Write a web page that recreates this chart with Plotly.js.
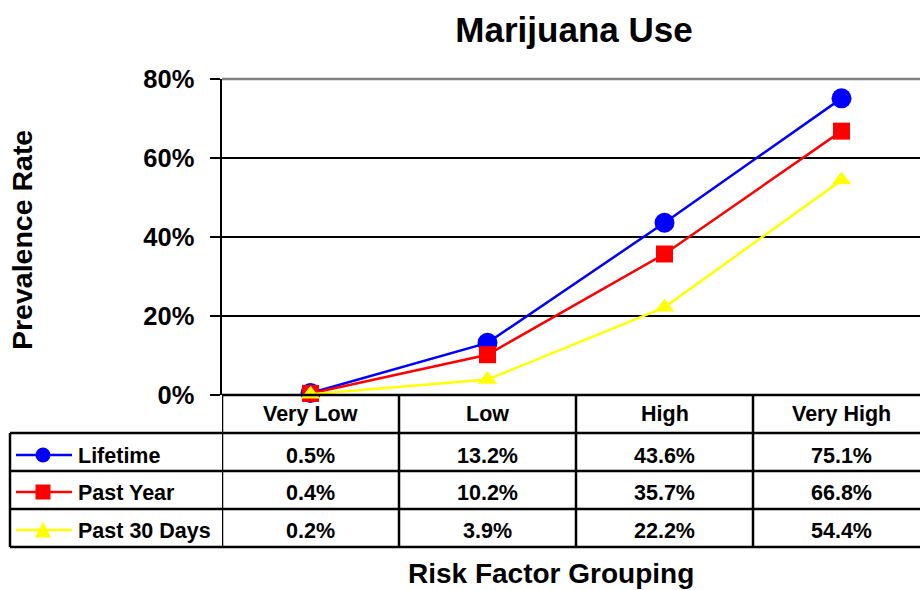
<!DOCTYPE html>
<html>
<head>
<meta charset="utf-8">
<script src="https://cdn.plot.ly/plotly-3.0.1.min.js"></script>
<style>
  html, body { margin: 0; padding: 0; background: #fff; }
  #chart { width: 920px; height: 590px; }
</style>
</head>
<body>
<div id="chart"></div>
<script>
// Marijuana use prevalence by risk factor grouping
const categories = ['Very Low', 'Low', 'High', 'Very High'];
const seriesNames = ['Lifetime', 'Past Year', 'Past 30 Days'];
const lifetime = [0.5, 13.2, 43.6, 75.1];
const pastYear = [0.4, 10.2, 35.7, 66.8];
const past30Days = [0.2, 3.9, 22.2, 54.4];
const yTickValues = [0, 20, 40, 60, 80];

const FONT = 'Liberation Sans, Arial, Helvetica, sans-serif';
const W = 920, H = 590;
// plot area in pixels
const L = 222, R = 920, T = 79, B = 395;
const px = p => (p - L) / (R - L);   // pixel x -> paper x
const py = p => (B - p) / (B - T);   // pixel y -> paper y
const RULE = 2.5;

const styles = [
  { color: '#0000FF', symbol: 'circle', size: 20 },
  { color: '#FF0000', symbol: 'square', size: 17 },
  { color: '#FFFF00', symbol: 'triangle-up', size: 17 }
];
const values = [lifetime, pastYear, past30Days];

const traces = values.map((v, i) => ({
  type: 'scatter',
  mode: 'lines+markers',
  name: seriesNames[i],
  x: categories.map((c, k) => k),
  y: v,
  line: { color: styles[i].color, width: 2.5 },
  marker: { color: styles[i].color, symbol: styles[i].symbol, size: styles[i].size, line: { width: 0 } },
  cliponaxis: false,
  hoverinfo: 'skip'
}));

// data table geometry (pixels)
const headerTop = 395, rowTops = [433, 471, 509], tableBottom = 547, tableLeft = 10;
const rowCenters = [455, 492, 530];
const headerCenter = 414;

const shapes = [];
const hline = (x0, x1, yPix, color) => shapes.push({
  type: 'line', xref: 'paper', yref: 'paper',
  x0: px(x0), x1: px(x1), y0: py(yPix), y1: py(yPix),
  line: { color: color || '#000', width: RULE }, layer: 'above'
});
// top border of plot area
hline(L, R, T, '#808080');
// table rules
hline(L, R, headerTop);
rowTops.forEach(y => hline(tableLeft, R, y));
hline(tableLeft, R, tableBottom);
// column dividers, at category boundaries
[-0.5, 0.5, 1.5, 2.5].forEach(xv => shapes.push({
  type: 'line', xref: 'x', yref: 'paper',
  x0: xv, x1: xv, y0: py(headerTop), y1: py(tableBottom),
  line: { color: '#000', width: RULE }, layer: 'above'
}));
shapes.push({
  type: 'line', xref: 'paper', yref: 'paper',
  x0: px(tableLeft), x1: px(tableLeft), y0: py(rowTops[0]), y1: py(tableBottom),
  line: { color: '#000', width: RULE }, layer: 'above'
});

// legend keys inside the table
const keyX0 = 16, keyX1 = 72, keyMid = 43, keyR = 7.5;
rowCenters.forEach((cy, i) => {
  const c = styles[i].color;
  shapes.push({
    type: 'line', xref: 'paper', yref: 'paper',
    x0: px(keyX0), x1: px(keyX1), y0: py(cy), y1: py(cy),
    line: { color: c, width: 2.5 }, layer: 'above'
  });
  if (styles[i].symbol === 'circle') {
    shapes.push({
      type: 'circle', xref: 'paper', yref: 'paper',
      x0: px(keyMid - keyR), x1: px(keyMid + keyR), y0: py(cy + keyR), y1: py(cy - keyR),
      fillcolor: c, line: { width: 0 }, layer: 'above'
    });
  } else if (styles[i].symbol === 'square') {
    shapes.push({
      type: 'rect', xref: 'paper', yref: 'paper',
      x0: px(keyMid - keyR), x1: px(keyMid + keyR), y0: py(cy + keyR), y1: py(cy - keyR),
      fillcolor: c, line: { width: 0 }, layer: 'above'
    });
  } else {
    const p = [[keyMid, cy - keyR - 1], [keyMid + keyR + 0.5, cy + keyR], [keyMid - keyR - 0.5, cy + keyR]];
    shapes.push({
      type: 'path', xref: 'paper', yref: 'paper',
      path: 'M' + p.map(q => px(q[0]) + ',' + py(q[1])).join(' L') + ' Z',
      fillcolor: c, line: { width: 0 }, layer: 'above'
    });
  }
});

const tf = size => ({ family: FONT, size: size, color: '#000', weight: 'bold' });
const annotations = [];
// header row: category names
categories.forEach((c, k) => annotations.push({
  xref: 'x', yref: 'paper', x: k, y: py(headerCenter),
  text: c, showarrow: false, xanchor: 'center', yanchor: 'middle', font: tf(21.5)
}));
// series names and values
values.forEach((v, i) => {
  annotations.push({
    xref: 'paper', yref: 'paper', x: px(76), y: py(rowCenters[i] + 1),
    text: seriesNames[i], showarrow: false, xanchor: 'left', yanchor: 'middle', font: tf(21.5)
  });
  v.forEach((val, k) => annotations.push({
    xref: 'x', yref: 'paper', x: k, y: py(rowCenters[i] + 1),
    text: val.toFixed(1) + '%', showarrow: false, xanchor: 'center', yanchor: 'middle', font: tf(21.5)
  }));
});
// axis titles
annotations.push({
  xref: 'paper', yref: 'paper', x: px(22), y: py(240),
  text: 'Prevalence Rate', textangle: -90, showarrow: false,
  xanchor: 'center', yanchor: 'middle', font: tf(28.5)
});
annotations.push({
  xref: 'paper', yref: 'paper', x: px(551), y: py(573),
  text: 'Risk Factor Grouping', showarrow: false,
  xanchor: 'center', yanchor: 'middle', font: tf(28)
});

const layout = {
  width: W, height: H,
  margin: { l: L, r: W - R, t: T, b: H - B, pad: 0 },
  paper_bgcolor: '#fff', plot_bgcolor: '#fff',
  font: { family: FONT, color: '#000' },
  showlegend: false,
  title: {
    text: 'Marijuana Use',
    font: tf(35),
    x: px(574), xref: 'paper', xanchor: 'center',
    y: 1 - 30 / H, yref: 'container', yanchor: 'middle'
  },
  xaxis: {
    range: [-0.5, (R - L) / 177 - 0.5],
    showgrid: false, zeroline: false, showticklabels: false,
    showline: false, ticks: '', fixedrange: true
  },
  yaxis: {
    range: [0, 80],
    tickvals: yTickValues,
    ticktext: yTickValues.map(v => v + '%'),
    tickfont: tf(25.5),
    ticks: 'outside', ticklen: 10, tickwidth: RULE, tickcolor: '#000',
    ticklabelstandoff: 10,
    showgrid: true, gridcolor: '#000', gridwidth: RULE,
    zeroline: false,
    showline: true, linecolor: '#000', linewidth: RULE,
    fixedrange: true
  },
  shapes: shapes,
  annotations: annotations
};

Plotly.newPlot('chart', traces, layout, { staticPlot: true, displayModeBar: false });
</script>
</body>
</html>
